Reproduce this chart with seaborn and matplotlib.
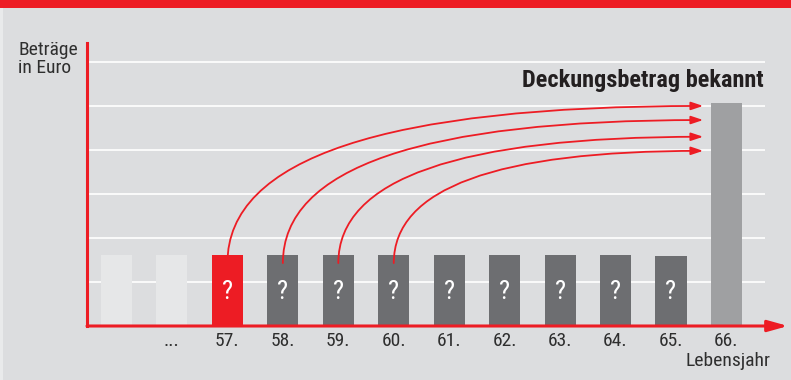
import os
import matplotlib
matplotlib.use("Agg")
import matplotlib.pyplot as plt
from matplotlib.patches import Rectangle
import matplotlib.font_manager as fm
import seaborn as sns
import pandas as pd

# ---- data -------------------------------------------------------------
years = ["", "...", "57.", "58.", "59.", "60.", "61.", "62.", "63.", "64.", "65.", "66."]
amounts = [1.61, 1.61, 1.61, 1.61, 1.61, 1.61, 1.61, 1.61, 1.61, 1.61, 1.59, 5.07]
bar_kind = ["past", "past", "current", "open", "open", "open", "open", "open",
            "open", "open", "open", "known"]
question_mark = [False, False, True, True, True, True, True, True, True, True, True, False]
arrow_sources = ["57.", "58.", "59.", "60."]
arrow_targets = [5.0, 4.68, 4.3, 3.98]
grid_levels = [1, 2, 3, 4, 5, 6]

# ---- style ------------------------------------------------------------
BG = "#DCDDDF"
RED = "#ED1C24"
kind_colors = {"past": "#E6E7E8", "current": RED, "open": "#6D6E71", "known": "#9FA0A2"}
TXT = "#2E2E2E"

sns.set_theme(style="white")
plt.rcParams["font.family"] = ["DejaVu Sans"]


def pick_font(patterns):
    files = [f.fname for f in fm.fontManager.ttflist]
    for p in patterns:
        for fn in files:
            if os.path.basename(fn).lower().startswith(p.lower()):
                return fn
    return None


reg_file = pick_font(["LiberationSansNarrow-Regular", "RobotoCondensed-Regular",
                      "OpenSans_Condensed-Regular", "OpenSansCondensed-Regular",
                      "OpenSans-CondensedRegular", "DejaVuSansCondensed."])
bold_file = pick_font(["LiberationSansNarrow-Bold.", "RobotoCondensed-Bold.",
                       "OpenSans_Condensed-Bold.", "OpenSansCondensed-Bold.",
                       "OpenSans-CondensedBold.", "DejaVuSansCondensed-Bold."])
if reg_file:
    F_REG = fm.FontProperties(fname=reg_file)
    condensed = True
else:
    F_REG = fm.FontProperties(family="DejaVu Sans", stretch="condensed")
    condensed = False
if bold_file:
    F_BOLD = fm.FontProperties(fname=bold_file)
else:
    F_BOLD = fm.FontProperties(family="DejaVu Sans", weight="bold", stretch="condensed")
shrink = 1.0 if condensed else 0.85


def fp(base, size):
    p = base.copy()
    p.set_size(size * shrink)
    return p


W, H = 791, 380
fig = plt.figure(figsize=(W / 100, H / 100), dpi=100, facecolor=BG)

ax_l, ax_r, ax_b, ax_t = 87, 765, 326, 43
ax = fig.add_axes([ax_l / W, 1 - ax_b / H, (ax_r - ax_l) / W, (ax_b - ax_t) / H])
ax.set_facecolor(BG)

df = pd.DataFrame({"jahr": years, "betrag": amounts, "art": bar_kind})
palette = [kind_colors[k] for k in bar_kind]
sns.barplot(data=df, x="jahr", y="betrag", hue="jahr", order=years, hue_order=years,
            palette=palette, width=0.56, legend=False, ax=ax, saturation=1,
            edgecolor="none", zorder=2)

ax.set_xlim(-0.532, 11.695)
ax.set_ylim(0, 6.43)
ax.set_yticks(grid_levels)
ax.set_yticklabels([])
ax.yaxis.grid(True, color="white", linewidth=1.2, zorder=0)
ax.xaxis.grid(False)
ax.set_axisbelow(True)
ax.set_xlabel("")
ax.set_ylabel("")
ax.tick_params(axis="both", length=0)
ax.tick_params(axis="x", pad=4.5, labelcolor=TXT)
for lab in ax.get_xticklabels():
    lab.set_fontproperties(fp(F_REG, 14))

for s in ["top", "right", "bottom"]:
    ax.spines[s].set_visible(False)
ax.spines["left"].set_color(RED)
ax.spines["left"].set_linewidth(2.2)
ax.spines["left"].set_zorder(5)

for i, (q, v) in enumerate(zip(question_mark, amounts)):
    if q:
        ax.text(i, v * 0.48, "?", color="white", ha="center", va="center",
                fontproperties=fp(F_REG, 19), zorder=4)

last = len(years) - 1
for src, tgt in zip(arrow_sources, arrow_targets):
    i = years.index(src)
    ax.annotate("", xy=(last - 0.42, tgt), xytext=(i, amounts[i] - 0.18),
                arrowprops=dict(arrowstyle="-|>,head_length=0.6,head_width=0.2",
                                connectionstyle="angle3,angleA=90,angleB=0",
                                color=RED, lw=1.3, shrinkA=0, shrinkB=0),
                zorder=6)

x_tip = (788 - ax_l) / (ax_r - ax_l)
ax.annotate("", xy=(x_tip, 0), xytext=(0, 0), xycoords="axes fraction",
            textcoords="axes fraction", annotation_clip=False,
            arrowprops=dict(arrowstyle="-|>,head_length=1.0,head_width=0.28",
                            color=RED, lw=2.2, shrinkA=0, shrinkB=0), zorder=7)

fig.text(18 / W, 1 - 41 / H, "Beträge\nin Euro", ha="left", va="top",
         fontproperties=fp(F_REG, 14), color=TXT, linespacing=1.0)
fig.text(764 / W, 1 - 87 / H, "Deckungsbetrag bekannt", ha="right", va="baseline",
         fontproperties=fp(F_BOLD, 17.5), color="#231F20")
fig.text(770 / W, 1 - 361 / H, "Lebensjahr", ha="right", va="center",
         fontproperties=fp(F_REG, 14), color=TXT)

fig.patches.append(Rectangle((0, 1 - 7.5 / H), 1, 7.5 / H, transform=fig.transFigure,
                             facecolor=RED, edgecolor="none", zorder=10))
fig.patches.append(Rectangle((0, 0), 3 / W, 1 - 7.5 / H, transform=fig.transFigure,
                             facecolor="#E9EAEB", edgecolor="none", zorder=10))

fig.savefig("out.png", dpi=100, facecolor=BG)
